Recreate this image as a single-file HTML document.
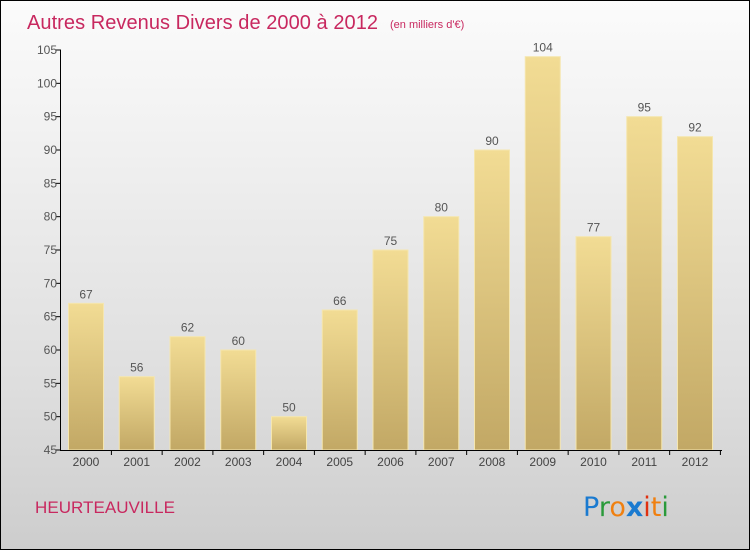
<!DOCTYPE html>
<html><head><meta charset="utf-8"><style>
body{margin:0}
#wrap{width:750px;height:550px;position:relative;box-sizing:border-box;border:1px solid #000;background:linear-gradient(#fbfbfb,#f3f3f3 20%,#dedede 70%,#cdcdcd);font-family:"Liberation Sans",sans-serif;overflow:hidden}
</style></head><body>
<div id="wrap">
<svg id="chart" width="750" height="550" style="position:absolute;left:-1px;top:-1px">
<defs><linearGradient id="bg" x1="0" y1="0" x2="0" y2="1"><stop offset="0" stop-color="#f2dc94"/><stop offset="1" stop-color="#c2a865"/></linearGradient></defs>
<text x="27" y="29" font-size="20" fill="#c8285f" textLength="351">Autres Revenus Divers de 2000 à 2012</text>
<text x="390" y="28" font-size="11" fill="#c8285f">(en milliers d'€)</text>
<text x="35" y="513" font-size="17" fill="#c8285f" textLength="140">HEURTEAUVILLE</text>
<g font-size="27" font-family="'DejaVu Sans',sans-serif">
<text x="583" y="516"><tspan fill="#1a7ad0">P</tspan><tspan fill="#2a9a3a">r</tspan><tspan fill="#f08010">o</tspan><tspan fill="#1a7ad0" font-weight="bold">x</tspan><tspan fill="#e03010">i</tspan><tspan fill="#f08010">t</tspan><tspan fill="#2a9a3a">i</tspan></text></g>
<g id="bars"></g><g id="axes"></g>
</svg>
</div>
<script>
const categories=["2000","2001","2002","2003","2004","2005","2006","2007","2008","2009","2010","2011","2012"];
const values=[67,56,62,60,50,66,75,80,90,104,77,95,92];
const yTicks=[45,50,55,60,65,70,75,80,85,90,95,100,105];
const NS="http://www.w3.org/2000/svg";
const y=v=>450-(v-45)*400/60;
const xc=i=>86+i*50.75;
const bars=document.getElementById('bars'),axes=document.getElementById('axes');
function mk(t,a,p){const e=document.createElementNS(NS,t);for(const k in a)e.setAttribute(k,a[k]);p.appendChild(e);return e;}
values.forEach((v,i)=>{
const r=mk('rect',{x:xc(i)-17.5,y:y(v),width:35,height:450-y(v),fill:'url(#bg)',stroke:'#f5e6ae','stroke-width':1},bars);


const t=mk('text',{x:xc(i),y:y(v)-5,'text-anchor':'middle','font-size':12,fill:'#555'},bars);
t.textContent=v;


const c=mk('text',{x:xc(i),y:466,'text-anchor':'middle','font-size':12,fill:'#444'},axes);
c.textContent=categories[i];


mk('line',{x1:xc(i)+25.4,x2:xc(i)+25.4,y1:450,y2:455,stroke:'#000'},axes);
});
yTicks.forEach(v=>{
mk('line',{x1:56,x2:61,y1:y(v),y2:y(v),stroke:'#000'},axes);
const t=mk('text',{x:57,y:y(v)+4,'text-anchor':'end','font-size':12,fill:'#555'},axes);
t.textContent=v;


});
const ya=mk('line',{x1:60.5,x2:60.5,y1:50,y2:450,stroke:'#000'},axes);


const xa=mk('line',{x1:60,x2:722,y1:450.5,y2:450.5,stroke:'#000'},axes);


</script>
</body></html>
